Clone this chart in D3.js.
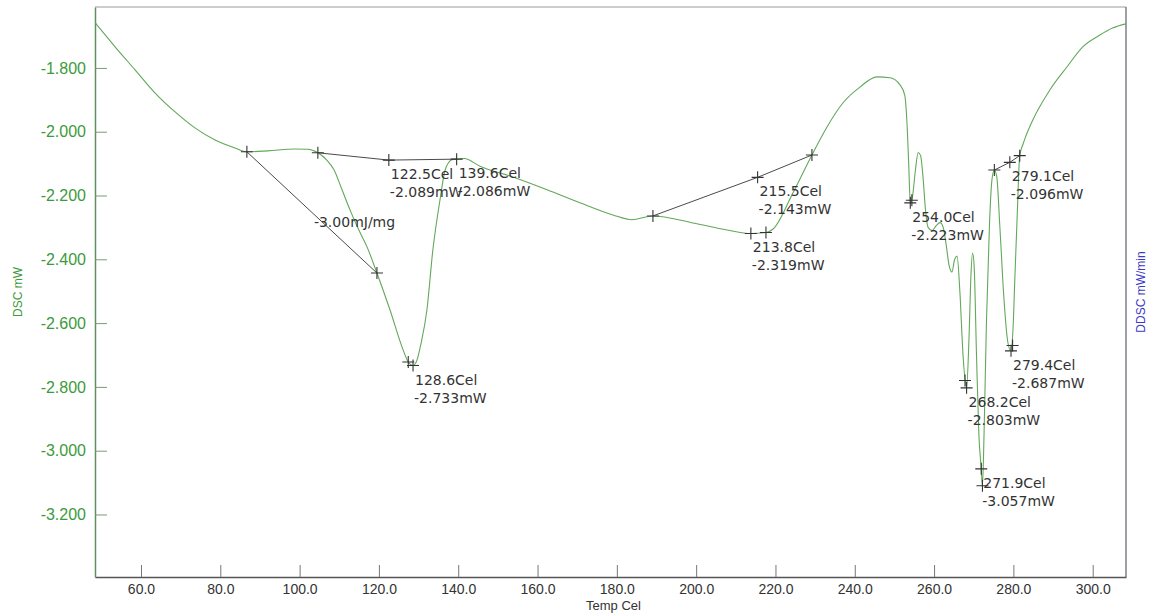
<!DOCTYPE html>
<html>
<head>
<meta charset="utf-8">
<script src="https://cdn.jsdelivr.net/npm/d3@7"></script>
<style>
  html, body { margin: 0; padding: 0; background: #fff; }
  svg { display: block; }
</style>
</head>
<body>
<svg id="chart" width="1150" height="615"></svg>
<script>
// DSC heating scan: temperature (°C) and heat flow (mW)
const temperature = [
  48.4, 53.4, 58.5, 63.5, 68.6, 73.6, 78.7, 83.7, 86.7, 92.0,
  98.8, 102.1, 104.6, 106.8, 108.6, 110.7, 112.7, 115.0, 117.0, 119.5,
  122.8, 126.1, 127.4, 128.6, 129.6, 130.6, 132.1, 133.6, 135.4, 136.7,
  138.4, 139.6, 141.5, 145.5, 153.8, 162.4, 170.7, 179.0, 183.8, 189.1,
  199.2, 207.8, 213.8, 217.6, 219.4, 224.4, 229.2, 233.0, 237.0, 241.3,
  245.6, 248.9, 251.4, 252.6, 253.2, 253.6, 254.0, 254.6, 255.3, 256.0,
  256.6, 257.2, 257.8, 258.5, 259.5, 260.5, 261.5, 262.3, 263.0, 263.8,
  264.5, 265.2, 265.8, 266.5, 267.3, 268.2, 268.8, 269.3, 269.7, 270.1,
  270.7, 271.3, 271.9, 272.2, 272.6, 273.2, 274.0, 274.6, 275.2, 275.8,
  276.6, 277.6, 278.6, 279.4, 279.9, 280.4, 281.0, 281.6, 282.4, 283.2,
  284.9, 289.2, 293.5, 297.5, 301.8, 305.0, 308.4
];
const heatFlow = [
  -1.658, -1.733, -1.806, -1.878, -1.938, -1.988, -2.026, -2.051, -2.063, -2.060,
  -2.054, -2.055, -2.066, -2.088, -2.118, -2.182, -2.245, -2.310, -2.361, -2.443,
  -2.559, -2.684, -2.722, -2.733, -2.716, -2.665, -2.559, -2.371, -2.214, -2.120,
  -2.088, -2.086, -2.084, -2.108, -2.142, -2.182, -2.223, -2.261, -2.276, -2.264,
  -2.286, -2.308, -2.319, -2.316, -2.305, -2.192, -2.073, -1.985, -1.910, -1.860,
  -1.828, -1.831, -1.853, -1.885, -1.980, -2.100, -2.223, -2.200, -2.120, -2.065,
  -2.075, -2.140, -2.240, -2.300, -2.310, -2.295, -2.285, -2.300, -2.350, -2.420,
  -2.440, -2.400, -2.390, -2.500, -2.700, -2.803, -2.650, -2.450, -2.380, -2.420,
  -2.700, -2.950, -3.057, -3.110, -2.950, -2.600, -2.280, -2.150, -2.120, -2.140,
  -2.300, -2.520, -2.660, -2.687, -2.620, -2.450, -2.250, -2.075, -2.040, -2.012,
  -1.963, -1.869, -1.797, -1.734, -1.697, -1.675, -1.662
];

// axis ticks
const xTicks = [60, 80, 100, 120, 140, 160, 180, 200, 220, 240, 260, 280, 300];
const yTicks = [-1.8, -2.0, -2.2, -2.4, -2.6, -2.8, -3.0, -3.2];

// analysed points with their readouts
const peakTemps  = [122.5, 139.6, 128.6, 215.5, 213.8, 254.0, 279.1, 279.4, 268.2, 271.9];
const peakValues = [-2.089, -2.086, -2.733, -2.143, -2.319, -2.223, -2.096, -2.687, -2.803, -3.057];

// tangent / integration baselines
const baselineTemps  = [[86.7, 119.5], [104.6, 122.5, 139.6], [189.1, 215.5, 229.2], [275.2, 279.1, 281.6]];
const baselineValues = [[-2.063, -2.443], [-2.066, -2.089, -2.086], [-2.264, -2.143, -2.073], [-2.120, -2.096, -2.075]];

// extra construction markers
const markerTemps  = [86.7, 104.6, 119.5, 127.4, 189.1, 229.2, 217.6, 254.4, 267.8, 272.2, 275.2, 281.6, 279.8];
const markerValues = [-2.063, -2.066, -2.443, -2.722, -2.264, -2.073, -2.316, -2.215, -2.780, -3.110, -2.120, -2.075, -2.670];

const enthalpyText = "-3.00mJ/mg";

const svg = d3.select("#chart");
const plotLeft = 95, plotRight = 1126, plotTop = 7, plotBottom = 577;

const x = d3.scaleLinear().domain([48.4, 308.4]).range([plotLeft, plotRight]);
const y = d3.scaleLinear().domain([-1.609, -3.396]).range([plotTop, plotBottom]);

// plain hyphen-minus, as the instrument software prints it
const fmt = p => d => d.toFixed(p);

svg.append("rect").attr("width", 1150).attr("height", 615).attr("fill", "#fff");

// frame: top and right edges
svg.append("line").attr("x1", plotLeft).attr("x2", plotRight).attr("y1", plotTop).attr("y2", plotTop)
  .attr("stroke", "#9a9a9a").attr("stroke-width", 1);
svg.append("line").attr("x1", plotRight).attr("x2", plotRight).attr("y1", plotTop).attr("y2", plotBottom)
  .attr("stroke", "#606070").attr("stroke-width", 1.2);

// x axis
const xAxis = svg.append("g").attr("transform", `translate(0,${plotBottom})`)
  .call(d3.axisBottom(x).tickValues(xTicks).tickFormat(fmt(1))
    .tickSizeInner(-12).tickSizeOuter(0).tickPadding(7));
xAxis.select(".domain").attr("stroke", "#555").attr("stroke-width", 1.5);
xAxis.selectAll(".tick line").attr("stroke", "#777");
xAxis.selectAll("text").attr("font-family", "Liberation Sans, Arial, sans-serif")
  .attr("font-size", 14).attr("fill", "#333");

// y axis
const yAxis = svg.append("g").attr("transform", `translate(${plotLeft},0)`)
  .call(d3.axisLeft(y).tickValues(yTicks).tickFormat(fmt(3))
    .tickSizeInner(-12).tickSizeOuter(0).tickPadding(9));
yAxis.select(".domain").attr("stroke", "#5f8f5f").attr("stroke-width", 1.5);
yAxis.selectAll(".tick line").attr("stroke", "#7a9a7a");
yAxis.selectAll("text").attr("font-family", "Liberation Sans, Arial, sans-serif")
  .attr("font-size", 16).attr("fill", "#3c9a3c");

// axis titles
svg.append("text").attr("x", (plotLeft + plotRight) / 2 + 3).attr("y", 610)
  .attr("text-anchor", "middle").attr("font-family", "Liberation Sans, Arial, sans-serif")
  .attr("font-size", 13).attr("fill", "#333").text("Temp Cel");
svg.append("text").attr("transform", "translate(22,292) rotate(-90)")
  .attr("text-anchor", "middle").attr("font-family", "Liberation Sans, Arial, sans-serif")
  .attr("font-size", 12).attr("fill", "#3c9a3c").text("DSC mW");
svg.append("text").attr("transform", "translate(1145,292) rotate(-90)")
  .attr("text-anchor", "middle").attr("font-family", "Liberation Sans, Arial, sans-serif")
  .attr("font-size", 12).attr("fill", "#3b3bc8").text("DDSC mW/min");

// DSC trace
const points = temperature.map((t, i) => [t, heatFlow[i]]);
const line = d3.line().x(d => x(d[0])).y(d => y(d[1])).curve(d3.curveMonotoneX);
svg.append("path").datum(points).attr("d", line)
  .attr("fill", "none").attr("stroke", "#62a85a").attr("stroke-width", 1.1);

// baselines
const baseLine = d3.line().x(d => x(d[0])).y(d => y(d[1]));
baselineTemps.forEach((ts, i) => {
  svg.append("path").datum(ts.map((t, j) => [t, baselineValues[i][j]]))
    .attr("d", baseLine).attr("fill", "none").attr("stroke", "#4a4a4a").attr("stroke-width", 1);
});

// cross markers
function cross(t, v) {
  const cx = x(t), cy = y(v), s = 6;
  svg.append("path").attr("d", `M${cx - s},${cy}H${cx + s}M${cx},${cy - s}V${cy + s}`)
    .attr("stroke", "#333").attr("stroke-width", 1.1).attr("fill", "none");
}
markerTemps.forEach((t, i) => cross(t, markerValues[i]));
peakTemps.forEach((t, i) => cross(t, peakValues[i]));

// readouts
const labelFont = "DejaVu Sans, Verdana, sans-serif";
peakTemps.forEach((t, i) => {
  const g = svg.append("text").attr("font-family", labelFont).attr("font-size", 14).attr("fill", "#333");
  g.append("tspan").attr("x", x(t) + 2).attr("y", y(peakValues[i]) + 19).text(t.toFixed(1) + "Cel");
  g.append("tspan").attr("x", x(t) + 1).attr("y", y(peakValues[i]) + 37).text(peakValues[i].toFixed(3) + "mW");
});

// integrated enthalpy label at the middle of the tangent line
const mt = (baselineTemps[0][0] + baselineTemps[0][1]) / 2;
const mv = (baselineValues[0][0] + baselineValues[0][1]) / 2;
svg.append("text").attr("x", x(mt) + 2).attr("y", y(mv) + 15)
  .attr("font-family", labelFont).attr("font-size", 14).attr("fill", "#333").text(enthalpyText);
</script>
</body>
</html>
